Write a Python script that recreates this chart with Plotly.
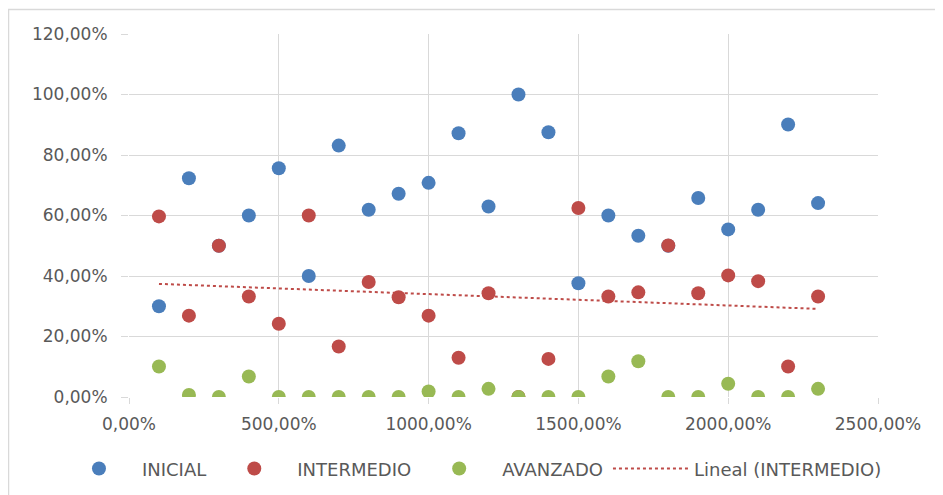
import numpy as np
import plotly.graph_objects as go

# x values (1 = 100%)
x_vals = list(range(1, 24))
inicial = [0.30, 0.723, 0.50, 0.60, 0.756, 0.40, 0.831, 0.619, 0.672, 0.708, 0.872, 0.630,
           1.00, 0.875, 0.376, 0.60, 0.533, 0.50, 0.658, 0.554, 0.619, 0.901, 0.641]
intermedio = [0.597, 0.269, 0.50, 0.332, 0.242, 0.60, 0.167, 0.380, 0.330, 0.269, 0.130, 0.343,
              0.0, 0.126, 0.625, 0.332, 0.346, 0.501, 0.343, 0.402, 0.383, 0.101, 0.332]
avanzado = [0.101, 0.007, 0.0, 0.068, 0.0, 0.0, 0.0, 0.0, 0.0, 0.018, 0.0, 0.027,
            0.0, 0.0, 0.0, 0.068, 0.118, 0.0, 0.0, 0.044, 0.0, 0.0, 0.027]
x_ticks = [0, 5, 10, 15, 20, 25]
y_ticks = [0, 0.2, 0.4, 0.6, 0.8, 1.0, 1.2]

BLUE = "#4A7EBB"
RED = "#BE4B48"
GREEN = "#98B954"
GRID = "#D9D9D9"
TXT = "#595959"
FONT = "DejaVu Sans"

slope, intercept = np.polyfit(x_vals, intermedio, 1)
trend_x = [x_vals[0], x_vals[-1]]
trend_y = [intercept + slope * v for v in trend_x]

fig = go.Figure()
fig.add_trace(go.Scatter(x=x_vals, y=inicial, mode="markers", name="INICIAL",
                         marker=dict(color=BLUE, size=14)))
fig.add_trace(go.Scatter(x=x_vals, y=intermedio, mode="markers", name="INTERMEDIO",
                         marker=dict(color=RED, size=14)))
fig.add_trace(go.Scatter(x=x_vals, y=avanzado, mode="markers", name="AVANZADO",
                         marker=dict(color=GREEN, size=14)))
fig.add_trace(go.Scatter(x=trend_x, y=trend_y, mode="lines", name="Lineal (INTERMEDIO)",
                         line=dict(color=RED, width=2, dash="dot")))

# outer chart border
fig.add_shape(type="rect", xref="paper", yref="paper",
              x0=-0.1609, x1=1.2, y0=-0.4, y1=1.0675,
              line=dict(color=GRID, width=1.5), layer="below")

fig.update_layout(
    width=943, height=495,
    margin=dict(l=121, r=73, t=26, b=106),
    paper_bgcolor="white", plot_bgcolor="white",
    separators=",.",
    font=dict(family=FONT, size=17, color=TXT),
    showlegend=True,
    legend=dict(orientation="h", x=-0.0975, xanchor="left", y=-0.198, yanchor="middle",
                font=dict(family=FONT, size=18, color=TXT), itemwidth=76,
                bgcolor="rgba(0,0,0,0)"),
)
fig.update_xaxes(range=[0, 25], tickvals=x_ticks, tickformat=".2%",
                 showgrid=True, gridcolor=GRID, gridwidth=1, zeroline=False,
                 showline=False, ticks="outside", ticklen=6, tickcolor=GRID,
                 ticklabelstandoff=6,
                 tickfont=dict(family=FONT, size=17, color=TXT), fixedrange=True)
fig.update_yaxes(range=[0, 1.2], tickvals=y_ticks, tickformat=".2%",
                 showgrid=True, gridcolor=GRID, gridwidth=1, zeroline=False,
                 showline=False, ticks="outside", ticklen=7, tickcolor=GRID,
                 ticklabelstandoff=10,
                 tickfont=dict(family=FONT, size=17, color=TXT), fixedrange=True)

fig.write_html("out.html")
